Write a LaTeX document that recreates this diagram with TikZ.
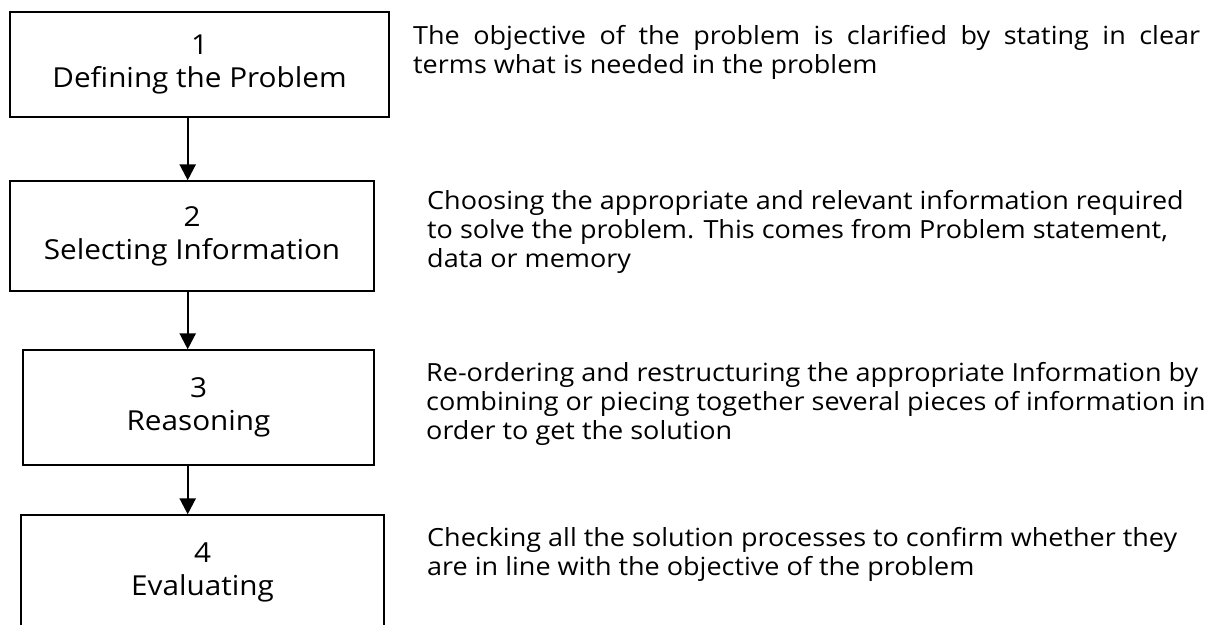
\documentclass[tikz,border=0pt]{standalone}
\usepackage{fontspec}
\setmainfont{Open Sans}[FakeStretch=1.08]
\usetikzlibrary{arrows.meta}
\begin{document}
\begin{tikzpicture}[x=1pt,y=-1pt,
  stepbox/.style={draw,line width=1.4pt,align=center,inner sep=0pt,
    font=\fontsize{27.5}{33}\selectfont},
  desc/.style={align=left,inner sep=0pt,anchor=west,
    font=\fontsize{25}{29}\selectfont},
  flow/.style={line width=2.4pt,-{Triangle[length=16pt,width=16pt]}}]
\useasboundingbox (0,0) rectangle (1213,624);
\node[stepbox,minimum width=379pt,minimum height=105pt] (b1) at (199.5,64.5) {1\\Defining the Problem};
\node[stepbox,minimum width=364pt,minimum height=110pt] (b2) at (192,236) {2\\Selecting Information};
\node[stepbox,minimum width=351pt,minimum height=115pt] (b3) at (198.5,407.5) {3\\Reasoning};
\node[stepbox,minimum width=363pt,minimum height=115pt] (b4) at (202.5,572.5) {4\\Evaluating};
\coordinate (ax) at (187.7,0);
\draw[flow] (b1.south -| ax) -- (b2.north -| ax);
\draw[flow] (b2.south -| ax) -- (b3.north -| ax);
\draw[flow] (b3.south -| ax) -- (b4.north -| ax);
\node[desc] (t1) at (413,52) {\makebox[787pt][s]{The objective of the problem is clarified by stating in clear}\\terms what is needed in the problem};
\node[desc] (t2) at (427,232) {Choosing the appropriate and relevant information required\\to solve the problem. This comes from Problem statement,\\data or memory};
\node[desc] (t3) at (426,404) {Re-ordering and restructuring the appropriate Information by\\combining or piecing together several pieces of information in\\order to get the solution};
\node[desc] (t4) at (427,554) {Checking all the solution processes to confirm whether they\\are in line with the objective of the problem};
\end{tikzpicture}
\end{document}
